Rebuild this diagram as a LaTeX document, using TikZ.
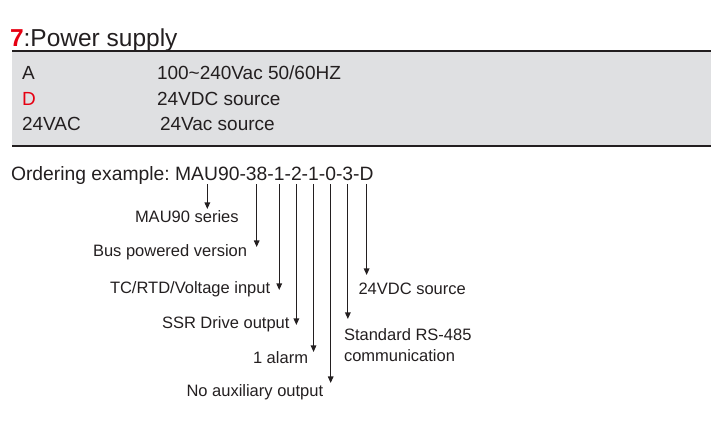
\documentclass[tikz,border=0pt]{standalone}
\usepackage{fontspec}
\setmainfont{Liberation Sans}
\usetikzlibrary{arrows.meta}
\definecolor{boxgray}{RGB}{223,224,226}
\definecolor{markred}{RGB}{230,0,18}
\definecolor{ink}{RGB}{35,31,32}

\begin{document}
\begin{tikzpicture}[x=1pt,y=-1pt,
    every node/.style={inner sep=0pt,outer sep=0pt,anchor=base west,text=ink},
    code/.style={font=\fontsize{19.3}{22}\selectfont,outer ysep=3pt},
    row/.style={font=\fontsize{19}{22}\selectfont},
    lbl/.style={font=\fontsize{16.5}{21.3}\selectfont},
    pointer/.style={draw=ink,line width=1.1pt,-{Triangle[width=5.5pt,length=6.5pt]}},
  ]
  \useasboundingbox (0,0) rectangle (721,443);
  % power supply table
  \fill[boxgray] (12,51) rectangle (711,146);
  \draw[ink,line width=1.2pt] (12,51) -- (711,51) (12,146) -- (711,146);
  \node[font=\fontsize{24.5}{28}\selectfont] (title) at (10,47)
    {\textcolor{markred}{\bfseries 7}:Power supply};
  \node[row] (keyA)  at (22,80)   {A};
  \node[row] (valA)  at (157,80)  {100\textasciitilde240Vac 50/60HZ};
  \node[row,text=markred] (keyD) at (22,106) {D};
  \node[row] (valD)  at (157,106) {24VDC source};
  \node[row] (keyAC) at (22,131)  {24VAC};
  \node[row] (valAC) at (160,131) {24Vac source};
  % ordering example
  \node[code] (pre) at (11,181) {Ordering example:};
  \node[code] (ser) at ([xshift=5.4pt]pre.base east) {MAU90};
  \foreach \nm/\txt [remember=\nm as \prev (initially ser)] in
    {h1/-,bus/38,h2/-,inp/1,h3/-,outp/2,h4/-,alm/1,h5/-,aux/0,h6/-,com/3,h7/-,pwr/D}
    \node[code] (\nm) at (\prev.base east) {\txt};
  \node[lbl] (serL) at (135,223)   {MAU90 series};
  \node[lbl] (busL) at (93,257)    {Bus powered version};
  \node[lbl] (inpL) at (110,293.5) {TC/RTD/Voltage input};
  \node[lbl] (outL) at (162,328.5) {SSR Drive output};
  \node[lbl] (almL) at (253,364)   {1 alarm};
  \node[lbl] (auxL) at (186.5,396.5) {No auxiliary output};
  \node[lbl] (pwrL) at (358.5,295) {24VDC source};
  \node[lbl,align=left,anchor=north west] (comL) at (344,328.5)
    {Standard RS-485\\communication};
  \foreach \nm/\y in {ser/209,bus/247,inp/290,outp/325,alm/352,aux/383,com/319,pwr/275}{
    \coordinate (\nm-tip) at (\nm.south |- 0,\y);
    \draw[pointer] (\nm.south) -- (\nm-tip);
  }
\end{tikzpicture}
\end{document}
